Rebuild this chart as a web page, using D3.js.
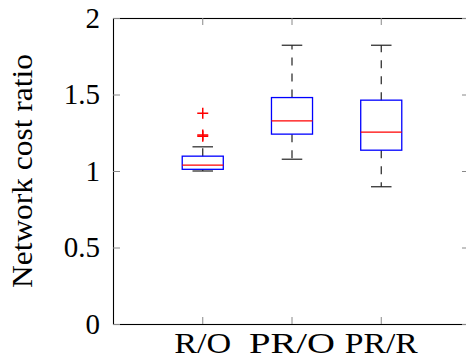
<!DOCTYPE html>
<html>
<head>
<meta charset="utf-8">
<script src="https://cdnjs.cloudflare.com/ajax/libs/d3/7.8.5/d3.min.js"></script>
<style>
  body { margin: 0; background: #fff; }
  text { font-family: "Liberation Serif", serif; fill: #000; }
</style>
</head>
<body>
<svg id="chart" width="466" height="359"></svg>
<script>
// values
var categories = ["R/O", "PR/O", "PR/R"];
var lowerWhisker = [1.0, 1.077, 0.897];
var q1 = [1.011, 1.241, 1.136];
var median = [1.038, 1.327, 1.254];
var q3 = [1.097, 1.480, 1.463];
var upperWhisker = [1.158, 1.822, 1.822];
var outliers = [[1.378, 1.227, 1.236], [], []];
var yTicks = [0, 0.5, 1, 1.5, 2];

// widths the labels take in the reference (its serif font is wider)
var catLabelWidth = [57, 86, 73];

var svg = d3.select("#chart");

// plot area (note: "top" is reserved on window)
var pad = {l: 113, r: 469, t: 18, b: 324};

var x = d3.scaleLinear().domain([0, 4]).range([113.5, 470.5]);
var y = d3.scaleLinear().domain([0, 2]).range([pad.b, pad.t]);

var boxHalf = 0.23, capHalf = 0.115;

var boxes = categories.map(function(c, i) {
  return {
    name: c, pos: i + 1, w: catLabelWidth[i],
    lo: lowerWhisker[i], q1: q1[i], med: median[i], q3: q3[i], hi: upperWhisker[i],
    out: outliers[i]
  };
});

// frame
svg.append("rect")
  .attr("x", pad.l + 0.5).attr("y", pad.t + 0.5)
  .attr("width", pad.r - pad.l).attr("height", pad.b - pad.t)
  .attr("fill", "none").attr("stroke", "#000").attr("stroke-width", 1.1);

// ticks (inward, on all sides)
var tickG = svg.append("g").attr("stroke", "#888").attr("stroke-width", 1);
yTicks.forEach(function(t) {
  tickG.append("line").attr("x1", pad.l).attr("x2", pad.l + 7)
    .attr("y1", y(t) + 0.5).attr("y2", y(t) + 0.5);
  tickG.append("line").attr("x1", pad.r - 7).attr("x2", pad.r)
    .attr("y1", y(t) + 0.5).attr("y2", y(t) + 0.5);
});
boxes.forEach(function(d) {
  tickG.append("line").attr("x1", x(d.pos)).attr("x2", x(d.pos))
    .attr("y1", pad.b).attr("y2", pad.b - 7);
  tickG.append("line").attr("x1", x(d.pos)).attr("x2", x(d.pos))
    .attr("y1", pad.t).attr("y2", pad.t + 7);
});

// y tick labels
svg.append("g").selectAll("text")
  .data(yTicks).enter().append("text")
  .attr("x", 100)
  .attr("y", function(d) { return y(d); })
  .attr("dy", "0.34em")
  .attr("text-anchor", "end")
  .attr("font-size", 29)
  .text(function(d) { return d; });

// x tick labels
svg.append("g").selectAll("text")
  .data(boxes).enter().append("text")
  .attr("x", function(d) { return x(d.pos); })
  .attr("y", 353)
  .attr("text-anchor", "middle")
  .attr("font-size", 29)
  .attr("textLength", function(d) { return d.w; })
  .attr("lengthAdjust", "spacingAndGlyphs")
  .text(function(d) { return d.name; });

// y label
svg.append("text")
  .attr("transform", "translate(32," + ((pad.t + pad.b) / 2) + ") rotate(-90)")
  .attr("text-anchor", "middle")
  .attr("font-size", 29)
  .attr("textLength", 234)
  .attr("lengthAdjust", "spacingAndGlyphs")
  .text("Network cost ratio");

// boxplots
var g = svg.append("g").selectAll("g")
  .data(boxes).enter().append("g");

// whiskers (dashed, starting from the box)
g.append("line")
  .attr("x1", function(d) { return x(d.pos); }).attr("x2", function(d) { return x(d.pos); })
  .attr("y1", function(d) { return y(d.q3); }).attr("y2", function(d) { return y(d.hi); })
  .attr("stroke", "#222").attr("stroke-width", 1.2).attr("stroke-dasharray", "8,8");
g.append("line")
  .attr("x1", function(d) { return x(d.pos); }).attr("x2", function(d) { return x(d.pos); })
  .attr("y1", function(d) { return y(d.q1); }).attr("y2", function(d) { return y(d.lo); })
  .attr("stroke", "#222").attr("stroke-width", 1.2).attr("stroke-dasharray", "8,8");

// caps
["hi", "lo"].forEach(function(k) {
  g.append("line")
    .attr("x1", function(d) { return x(d.pos - capHalf); })
    .attr("x2", function(d) { return x(d.pos + capHalf); })
    .attr("y1", function(d) { return y(d[k]); }).attr("y2", function(d) { return y(d[k]); })
    .attr("stroke", "#222").attr("stroke-width", 1.2);
});

// box
g.append("rect")
  .attr("x", function(d) { return x(d.pos - boxHalf); })
  .attr("y", function(d) { return y(d.q3); })
  .attr("width", function(d) { return x(d.pos + boxHalf) - x(d.pos - boxHalf); })
  .attr("height", function(d) { return y(d.q1) - y(d.q3); })
  .attr("fill", "none").attr("stroke", "#0000ff").attr("stroke-width", 1.3);

// median
g.append("line")
  .attr("x1", function(d) { return x(d.pos - boxHalf); })
  .attr("x2", function(d) { return x(d.pos + boxHalf); })
  .attr("y1", function(d) { return y(d.med); }).attr("y2", function(d) { return y(d.med); })
  .attr("stroke", "#ff0000").attr("stroke-width", 1.3);

// outliers
g.selectAll("path.out")
  .data(function(d) { return d.out.map(function(v) { return { pos: d.pos, v: v }; }); })
  .enter().append("path")
  .attr("class", "out")
  .attr("transform", function(d) { return "translate(" + x(d.pos) + "," + y(d.v) + ")"; })
  .attr("d", "M-5.5,0H5.5M0,-5.5V5.5")
  .attr("stroke", "#ff0000").attr("stroke-width", 1.5);
</script>
</body>
</html>
